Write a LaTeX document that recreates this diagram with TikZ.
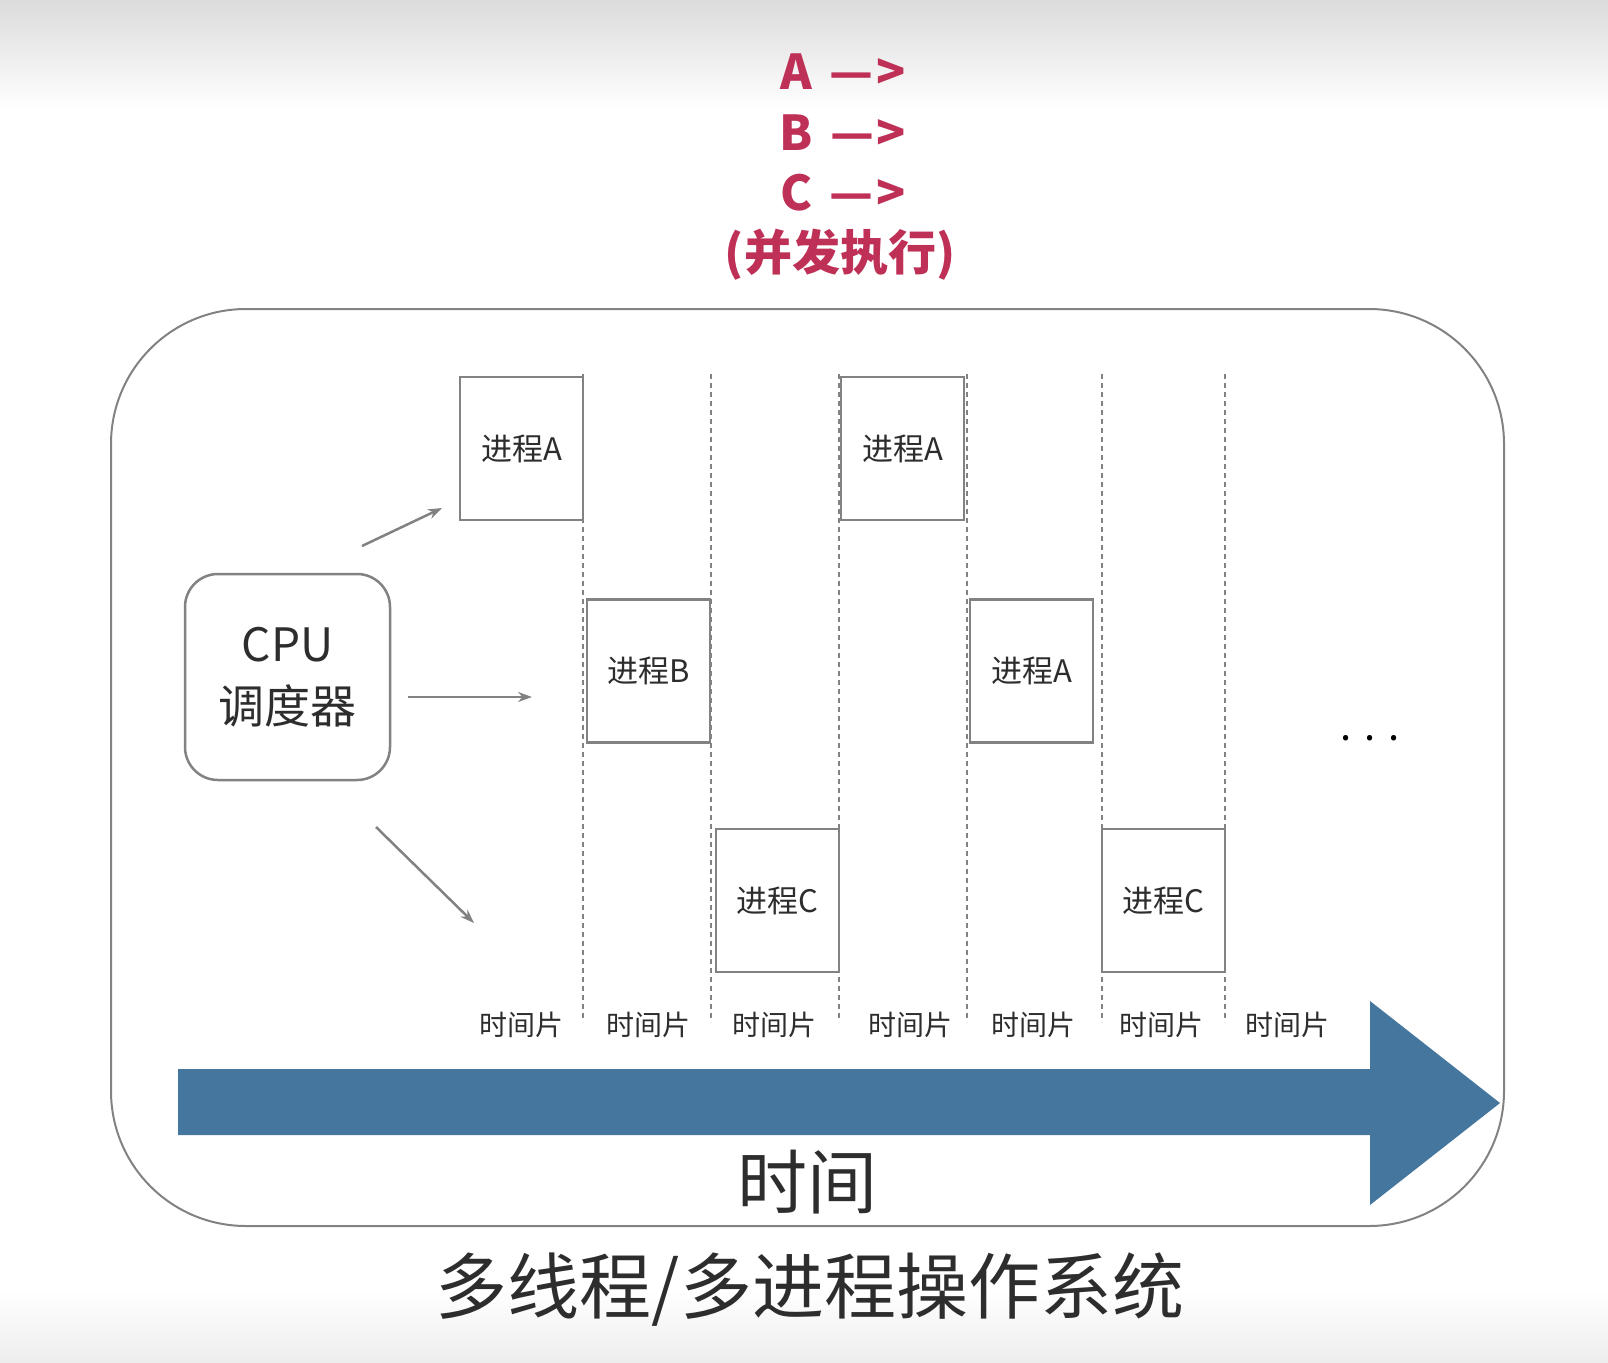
\documentclass[tikz,border=0pt]{standalone}
\usepackage{fontspec}
\setmainfont{Noto Sans CJK SC}
\usetikzlibrary{arrows.meta}
\definecolor{linegray}{RGB}{130,130,130}
\definecolor{txtgray}{RGB}{45,45,45}
\definecolor{redtxt}{RGB}{190,48,86}
\definecolor{timeblue}{RGB}{68,118,158}
\tikzset{
  proc/.style={draw=linegray, line width=2.5pt, fill=white, minimum width=123pt, minimum height=143pt, inner sep=0pt, font=\fontsize{31}{33}\selectfont, text=txtgray},
  cpubox/.style={draw=linegray, line width=2.5pt, rounded corners=33pt, minimum width=205pt, minimum height=206pt, inner sep=0pt, align=center, font=\fontsize{46}{62}\selectfont, text=txtgray},
  dashline/.style={draw=linegray, line width=2pt, dash pattern=on 5pt off 4pt},
  sched/.style={draw=linegray, line width=2.5pt, -{Stealth[length=14pt,width=10pt]}},
  slice/.style={font=\fontsize{28}{30}\selectfont, text=txtgray},
  redlabel/.style={font=\bfseries\fontsize{48}{52}\selectfont, text=redtxt},
}
\newcommand{\arrowtxt}{\hspace{0.35em}—\hspace{0.06em}>}
\begin{document}
\begin{tikzpicture}[x=1pt,y=-1pt]
\useasboundingbox (0,0) rectangle (1608,1362);
\shade[top color=gray!28, bottom color=white] (0,0) rectangle (1608,110);
\shade[top color=white, bottom color=gray!14] (0,1290) rectangle (1608,1362);
% red heading
\node[redlabel] (la) at (843,72) {A\arrowtxt};
\node[redlabel] (lb) at (843,133) {B\arrowtxt};
\node[redlabel] (lc) at (843,193) {C\arrowtxt};
\node[redlabel] (lp) at (840,255) {(并发执行)};
% frame
\draw[linegray, line width=2pt, rounded corners=135pt] (111,309) rectangle (1504,1226);
% dashed separators
\foreach \x in {583,711,839,967,1102,1225}
  \draw[dashline] (\x,374) -- (\x,1022);
% process boxes
\node[proc] (a1) at (521.5,448.5) {进程A};
\node[proc] (b1) at (648.5,671) {进程B};
\node[proc] (c1) at (777.5,900.5) {进程C};
\node[proc] (a2) at (902.5,448.5) {进程A};
\node[proc] (a3) at (1031.5,671) {进程A};
\node[proc] (c2) at (1163.5,900.5) {进程C};
% cpu scheduler
\node[cpubox] (cpu) at (287.5,677) {CPU\\调度器};
\coordinate (s1) at (362,546);
\coordinate (t1) at (442,508);
\coordinate (s2) at (408,697);
\coordinate (t2) at (532,697);
\coordinate (s3) at (376,827);
\coordinate (t3) at (474,923);
\draw[sched] (s1) -- (t1);
\draw[sched] (s2) -- (t2);
\draw[sched] (s3) -- (t3);
% time slices
\foreach \x/\n in {521/ts1,648/ts2,774/ts3,910/ts4,1033/ts5,1161/ts6,1287/ts7}
  \node[slice] (\n) at (\x,1025) {时间片};
% time arrow
\fill[timeblue] (178,1069) -- (1370,1069) -- (1370,1001) -- (1500,1103) -- (1370,1205) -- (1370,1135) -- (178,1135) -- cycle;
\node[font=\fontsize{70}{74}\selectfont, text=txtgray] (time) at (807,1182) {时间};
\node[font=\fontsize{40}{40}\selectfont, text=black] (dots) at (1370,738) {.\hspace{13pt}.\hspace{13pt}.};
% title
\node[font=\fontsize{72}{76}\selectfont, text=txtgray] (title) at (810,1290) {多线程/多进程操作系统};
\end{tikzpicture}
\end{document}
